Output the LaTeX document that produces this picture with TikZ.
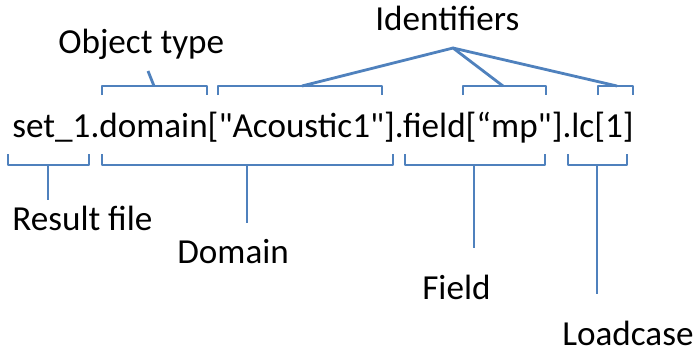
\documentclass[tikz,border=0pt]{standalone}
\usepackage{fontspec}
\setmainfont{Carlito}
\usetikzlibrary{positioning}
\definecolor{brblue}{RGB}{79, 129, 189}

\begin{document}
\begin{tikzpicture}[x=0.02cm, y=-0.02cm,
  brk/.style={draw=brblue, line width=1.6pt, line join=round},
  lbl/.style={font=\fontsize{20pt}{24pt}\selectfont, inner sep=0pt, anchor=base west},
  expr/.style={font=\fontsize{20pt}{24pt}\selectfont, inner sep=0pt, anchor=base west}
]
\useasboundingbox (0,0) rectangle (694,353);
% expression
\node[expr] at (12, 137) (code)
  {set\_1.domain[\textquotedbl Acoustic1\textquotedbl].field[“mp\textquotedbl].lc[1]};
% labels
\node[lbl] at (58, 53)   (otype)  {Object type};
\node[lbl] at (375, 30)  (ident)  {Identifiers};
\node[lbl] at (12, 230)  (result) {Result file};
\node[lbl] at (177, 263) (domain) {Domain};
\node[lbl] at (422, 299) (field)  {Field};
\node[lbl] at (562, 345) (lcase)  {Loadcase};
% upper brackets
\draw[brk] (102, 95) -- (102, 86) -- (207, 86) -- (207, 95);
\draw[brk] (218, 95) -- (218, 86) -- (382, 86) -- (382, 95);
\draw[brk] (463, 95) -- (463, 86) -- (546, 86) -- (546, 95);
\draw[brk] (598, 95) -- (598, 86) -- (633, 86) -- (633, 95);
\coordinate (apex) at (453, 48);
\draw[brk] (154, 86) -- (148, 71);
\draw[brk] (302, 86) -- (apex) -- (503, 86);
\draw[brk] (apex) -- (617, 86);
% lower brackets
\draw[brk] (8, 154)   -- (8, 165)   -- (89, 165)  -- (89, 154);
\draw[brk] (102, 154) -- (102, 165) -- (393, 165) -- (393, 154);
\draw[brk] (405, 154) -- (405, 165) -- (545, 165) -- (545, 154);
\draw[brk] (568, 154) -- (568, 165) -- (627, 165) -- (627, 154);
\draw[brk] (48, 165)  -- (48, 200);
\draw[brk] (247, 165) -- (247, 223);
\draw[brk] (474, 165) -- (474, 248);
\draw[brk] (597, 165) -- (597, 294);
\end{tikzpicture}
\end{document}
